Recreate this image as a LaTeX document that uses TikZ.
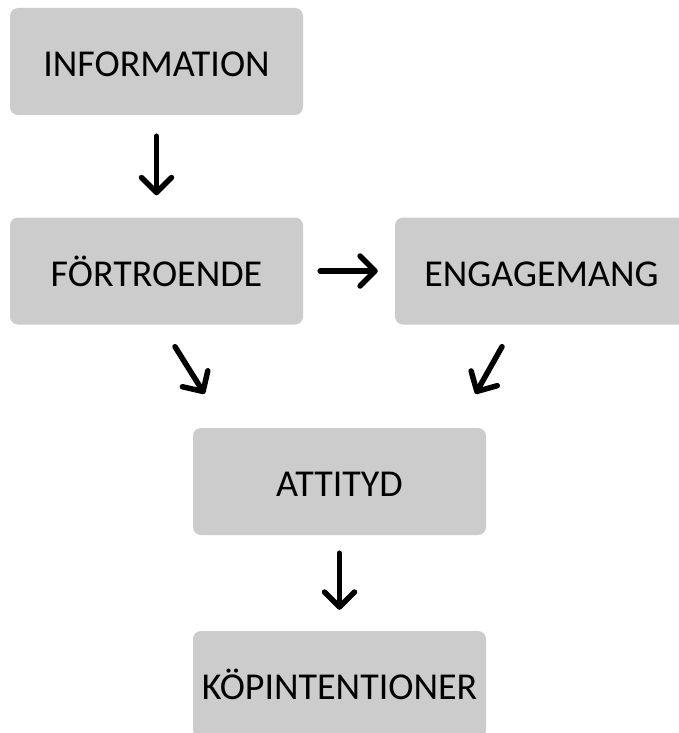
\documentclass[tikz,border=0pt]{standalone}
\usepackage{fontspec}
\setmainfont{Carlito}
\usetikzlibrary{arrows.meta}
\begin{document}
\begin{tikzpicture}[x=1pt,y=-1pt,
  box/.style={fill=boxgray, rounded corners=8pt, minimum width=293pt, minimum height=107pt, inner sep=0pt, text height=30pt, text depth=0pt, font=\fontsize{38}{42}\selectfont, text=black},
  arr/.style={line width=5.5pt, line cap=round, -{Straight Barb[length=15pt,width=30pt,line cap=round,line join=round]}}]
\definecolor{boxgray}{RGB}{204,204,204}
\clip (0,0) rectangle (679,733);
\fill[white] (0,0) rectangle (679,733);
\node[box] (info) at (156.5,61.5) {INFORMATION};
\node[box] (fort) at (156.5,271) {FÖRTROENDE};
\node[box] (eng) at (541.5,271) {ENGAGEMANG};
\node[box] (att) at (339.5,481.5) {ATTITYD};
\node[box] (kop) at (339.5,684.5) {KÖPINTENTIONER};
\draw[arr, shorten <=21pt, shorten >=22pt] (info) -- (fort);
\draw[arr, shorten <=17pt, shorten >=17pt] (fort) -- (eng);
\draw[arr] ([xshift=18.5pt,yshift=-22pt]fort.south) -- ([xshift=-135pt,yshift=34pt]att.north);
\draw[arr] ([xshift=-39.5pt,yshift=-22pt]eng.south) -- ([xshift=136pt,yshift=34pt]att.north);
\draw[arr, shorten <=18pt, shorten >=21pt] (att) -- (kop);
\end{tikzpicture}
\end{document}
